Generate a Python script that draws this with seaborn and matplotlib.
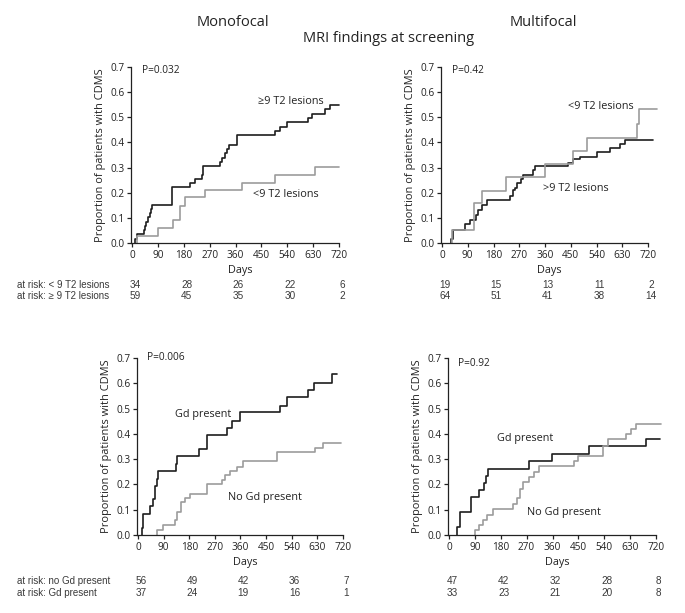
import numpy as np
import pandas as pd
import seaborn as sns
import matplotlib
matplotlib.use('Agg')
import matplotlib.pyplot as plt
from matplotlib import transforms

# ---- data (days, cumulative proportion with CDMS) ----
# monofocal, T2 lesions
mono_t2_hi_days = [12, 12, 17, 40, 44, 48, 55, 62, 66, 70, 138, 202, 219, 244, 248, 306, 313, 323, 330, 338,
                   364, 497, 515, 538, 613, 625, 671, 688, 720]
mono_t2_hi_prop = [0, 0.017, 0.034, 0.051, 0.068, 0.085, 0.102, 0.119, 0.136, 0.153, 0.224, 0.237, 0.254, 0.271,
                   0.305, 0.322, 0.339, 0.356, 0.373, 0.39, 0.428, 0.444, 0.461, 0.482, 0.498, 0.514, 0.531, 0.548,
                   0.548]
mono_t2_lo_days = [16, 16, 92, 144, 167, 184, 254, 381, 497, 636, 720]
mono_t2_lo_prop = [0, 0.026, 0.061, 0.09, 0.149, 0.182, 0.211, 0.24, 0.269, 0.303, 0.303]

# multifocal, T2 lesions
multi_t2_hi_days = [30, 30, 37, 80, 98, 118, 127, 139, 156, 238, 249, 255, 261, 275, 284, 319, 325, 442, 459,
                    482, 540, 587, 622, 640, 738]
multi_t2_hi_prop = [0, 0.016, 0.05, 0.076, 0.093, 0.11, 0.13, 0.15, 0.171, 0.188, 0.21, 0.22, 0.237, 0.255, 0.271,
                    0.29, 0.305, 0.32, 0.333, 0.343, 0.36, 0.377, 0.392, 0.408, 0.408]
multi_t2_lo_days = [34, 34, 113, 139, 224, 360, 459, 506, 680, 688, 750]
multi_t2_lo_prop = [0, 0.05, 0.158, 0.208, 0.261, 0.314, 0.366, 0.419, 0.472, 0.531, 0.531]

# monofocal, Gd enhancement
mono_gd_yes_days = [13, 13, 19, 42, 52, 60, 66, 71, 133, 138, 215, 241, 312, 329, 358, 499, 522, 598, 619, 680, 700]
mono_gd_yes_prop = [0, 0.029, 0.085, 0.113, 0.141, 0.194, 0.222, 0.252, 0.282, 0.312, 0.341, 0.394, 0.423, 0.452,
                    0.485, 0.512, 0.545, 0.574, 0.603, 0.635, 0.635]
mono_gd_no_days = [68, 68, 87, 130, 138, 150, 165, 183, 244, 294, 306, 323, 347, 370, 487, 622, 651, 712]
mono_gd_no_prop = [0, 0.019, 0.041, 0.061, 0.092, 0.13, 0.146, 0.162, 0.202, 0.219, 0.236, 0.253, 0.27, 0.292,
                   0.328, 0.346, 0.365, 0.365]

# multifocal, Gd enhancement
multi_gd_yes_days = [28, 28, 37, 75, 105, 122, 129, 137, 277, 359, 487, 686, 733]
multi_gd_yes_prop = [0, 0.031, 0.092, 0.149, 0.177, 0.206, 0.235, 0.262, 0.292, 0.321, 0.352, 0.381, 0.381]
multi_gd_no_days = [90, 90, 105, 119, 133, 154, 224, 236, 248, 257, 277, 295, 312, 435, 450, 534, 552, 616, 634,
                    651, 739]
multi_gd_no_prop = [0, 0.02, 0.04, 0.06, 0.08, 0.104, 0.124, 0.145, 0.18, 0.208, 0.23, 0.25, 0.272, 0.292, 0.312,
                    0.352, 0.378, 0.398, 0.42, 0.44, 0.44]

# numbers at risk at days 0, 180, 360, 540, 720
risk_days = [0, 180, 360, 540, 720]
risk_mono_t2_lo = [34, 28, 26, 22, 6]
risk_mono_t2_hi = [59, 45, 35, 30, 2]
risk_multi_t2_lo = [19, 15, 13, 11, 2]
risk_multi_t2_hi = [64, 51, 41, 38, 14]
risk_mono_gd_no = [56, 49, 42, 36, 7]
risk_mono_gd_yes = [37, 24, 19, 16, 1]
risk_multi_gd_no = [47, 42, 32, 28, 8]
risk_multi_gd_yes = [33, 23, 21, 20, 8]

p_values = ['P=0.032', 'P=0.42', 'P=0.006', 'P=0.92']

W, H = 685, 613
DARK = '#1e1e1e'
LIGHT = '#9c9c9c'
XLIM = (-2, 755)

sns.set_theme(style='ticks')
plt.rcParams['font.family'] = ['Open Sans', 'DejaVu Sans']
plt.rcParams['axes.linewidth'] = 0.9
plt.rcParams['xtick.major.width'] = 0.9
plt.rcParams['ytick.major.width'] = 0.9
plt.rcParams['xtick.major.size'] = 3
plt.rcParams['ytick.major.size'] = 3
plt.rcParams['xtick.major.pad'] = 2
plt.rcParams['ytick.major.pad'] = 2

fig = plt.figure(figsize=(W / 100, H / 100), dpi=100)
fig.patch.set_facecolor('white')


def add_panel(x0, x720, y0, y07):
    '''
    place an axes so that day 0 / day 720 and 0.0 / 0.7 land on the given pixels
    '''
    pxd = (x720 - x0) / 720.0
    left = x0 + XLIM[0] * pxd
    right = x0 + XLIM[1] * pxd
    return fig.add_axes([left / W, 1 - y0 / H, (right - left) / W, (y0 - y07) / H])


def km(ax, series, label_pos, pval, pval_pos):
    frames = []
    for name, days, prop, color in series:
        frames.append(pd.DataFrame({'day': days, 'prop': prop, 'group': name}))
    df = pd.concat(frames, ignore_index=True)
    pal = {name: color for name, _, _, color in series}
    sns.lineplot(data=df, x='day', y='prop', hue='group', palette=pal, estimator=None, sort=False,
                 drawstyle='steps-post', legend=False, linewidth=1.2, ax=ax)
    ax.set_xlim(*XLIM)
    ax.set_ylim(0, 0.7)
    ax.set_xticks(np.arange(0, 721, 90))
    ax.set_yticks(np.arange(0, 0.71, 0.1))
    ax.set_yticklabels(['{:.1f}'.format(v) for v in np.arange(0, 0.71, 0.1)])
    ax.tick_params(labelsize=7.2, colors='#222222')
    ax.set_xlabel('Days', fontsize=7.8, labelpad=3, color='#222222')
    ax.set_ylabel('Proportion of patients with CDMS', fontsize=7.9, labelpad=3, color='#222222')
    sns.despine(ax=ax)
    ax.spines['left'].set_bounds(0, 0.7)
    ax.spines['bottom'].set_bounds(XLIM[0], 720)
    for s in ('left', 'bottom'):
        ax.spines[s].set_color('#222222')
    ax.patch.set_alpha(0)
    for text, (x, y) in label_pos:
        ax.text(x, y, text, fontsize=7.8, ha='left', va='center', color='#222222')
    ax.text(pval_pos[0], pval_pos[1], pval, fontsize=7.3, ha='left', va='center', color='#222222')


def risk_table(ax, rows, label_x):
    trans = transforms.blended_transform_factory(ax.transData, fig.transFigure)
    for label, counts, ypx in rows:
        if label:
            fig.text(label_x / W, 1 - ypx / H, label, fontsize=7, ha='left', va='center',
                     family=['Liberation Sans', 'DejaVu Sans'], color='#3a3a3a')
        for d, n in zip(risk_days, counts):
            ax.text(d + 10, 1 - ypx / H, str(n), transform=trans, fontsize=7.2, ha='center', va='center',
                    family=['Liberation Sans', 'DejaVu Sans'], color='#3a3a3a')


# top-left: monofocal, T2
ax1 = add_panel(132, 339, 243, 67)
km(ax1, [('hi', mono_t2_hi_days, mono_t2_hi_prop, DARK), ('lo', mono_t2_lo_days, mono_t2_lo_prop, LIGHT)],
   [('\u22659 T2 lesions', (438, 0.561)), ('<9 T2 lesions', (421, 0.191))], p_values[0], (35, 0.685))
risk_table(ax1, [('at risk: < 9 T2 lesions', risk_mono_t2_lo, 285),
                 ('at risk: \u2265 9 T2 lesions', risk_mono_t2_hi, 296)], 17)

# top-right: multifocal, T2
ax2 = add_panel(442, 648, 243, 67)
km(ax2, [('hi', multi_t2_hi_days, multi_t2_hi_prop, DARK), ('lo', multi_t2_lo_days, multi_t2_lo_prop, LIGHT)],
   [('<9 T2 lesions', (440, 0.541)), ('>9 T2 lesions', (353, 0.215))], p_values[1], (35, 0.685))
risk_table(ax2, [(None, risk_multi_t2_lo, 285), (None, risk_multi_t2_hi, 296)], 0)

# bottom-left: monofocal, Gd
ax3 = add_panel(138, 343, 535, 358)
km(ax3, [('yes', mono_gd_yes_days, mono_gd_yes_prop, DARK), ('no', mono_gd_no_days, mono_gd_no_prop, LIGHT)],
   [('Gd present', (130, 0.478)), ('No Gd present', (316, 0.15))], p_values[2], (32, 0.7))
risk_table(ax3, [('at risk: no Gd present', risk_mono_gd_no, 581),
                 ('at risk: Gd present', risk_mono_gd_yes, 593)], 17)

# bottom-right: multifocal, Gd
ax4 = add_panel(449, 656, 535, 358)
km(ax4, [('yes', multi_gd_yes_days, multi_gd_yes_prop, DARK), ('no', multi_gd_no_days, multi_gd_no_prop, LIGHT)],
   [('Gd present', (167, 0.383)), ('No Gd present', (271, 0.09))], p_values[3], (31, 0.68))
risk_table(ax4, [(None, risk_multi_gd_no, 581), (None, risk_multi_gd_yes, 593)], 0)

# headings
fig.text(233 / W, 1 - 22 / H, 'Monofocal', fontsize=10.5, ha='center', va='center', color='#222222')
fig.text(543 / W, 1 - 22 / H, 'Multifocal', fontsize=10.5, ha='center', va='center', color='#222222')
fig.text(389 / W, 1 - 39 / H, 'MRI findings at screening', fontsize=10.5, ha='center', va='center', color='#222222')

fig.savefig('out.png', dpi=100, facecolor='white')
plt.close(fig)
